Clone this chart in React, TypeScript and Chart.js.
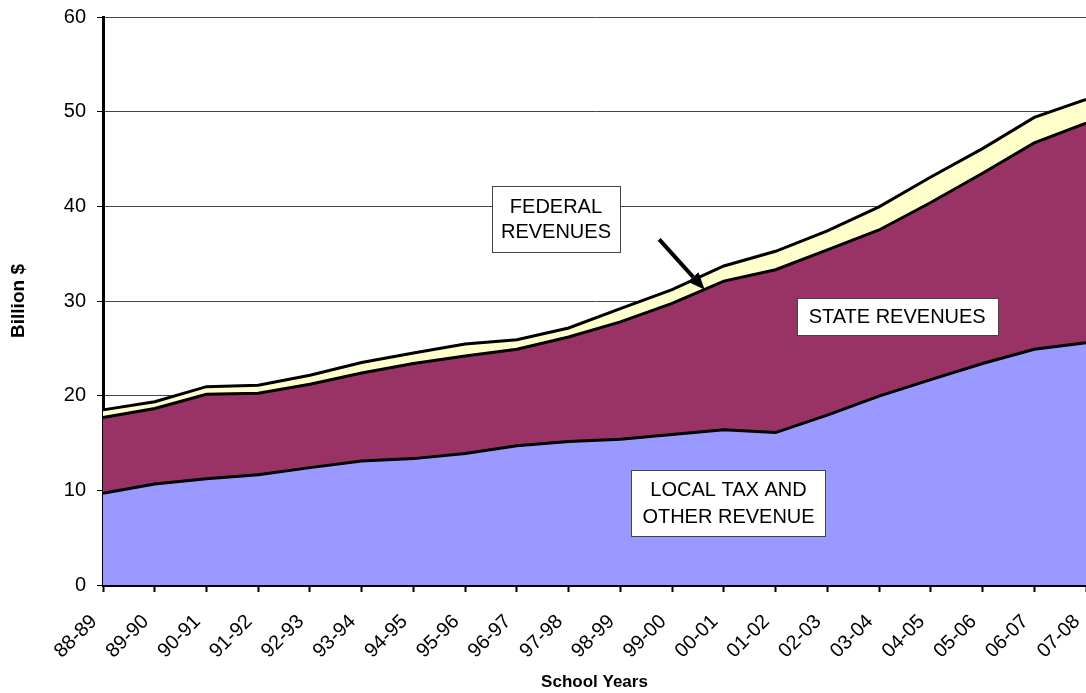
import { useEffect, useRef } from "react";
import { Chart, registerables } from "chart.js";

Chart.register(...registerables);

const schoolYears = [
  "88-89", "89-90", "90-91", "91-92", "92-93", "93-94", "94-95", "95-96", "96-97", "97-98",
  "98-99", "99-00", "00-01", "01-02", "02-03", "03-04", "04-05", "05-06", "06-07", "07-08",
];

// Billion $
const localRevenue = [9.7, 10.67, 11.23, 11.65, 12.4, 13.1, 13.35, 13.9, 14.7, 15.15, 15.4, 15.9, 16.4, 16.1, 17.95, 19.95, 21.7, 23.4, 24.9, 25.6];
const stateRevenue = [8.0, 7.98, 8.91, 8.6, 8.8, 9.3, 10.05, 10.3, 10.2, 11.05, 12.4, 13.85, 15.7, 17.2, 17.45, 17.55, 18.7, 20.1, 21.8, 23.2];
const federalRevenue = [0.8, 0.71, 0.81, 0.85, 0.95, 1.1, 1.1, 1.25, 1.0, 0.95, 1.4, 1.45, 1.6, 1.95, 2.0, 2.45, 2.7, 2.6, 2.7, 2.5];

const yTickValues = [0, 10, 20, 30, 40, 50, 60];

const FONT = '"Liberation Sans", Arial, sans-serif';

// Annotation boxes placed in data space (category index, value)
const annotationBoxes = [
  { lines: ["FEDERAL", "REVENUES"], xIndex: 8.755, yValue: 38.7, width: 128, height: 66, lineGap: 25 },
  { lines: ["STATE REVENUES"], xIndex: 15.35, yValue: 28.4, width: 201, height: 37, lineGap: 26 },
  { lines: ["LOCAL TAX AND", "OTHER REVENUE"], xIndex: 12.09, yValue: 8.66, width: 194, height: 66, lineGap: 27 },
];
const federalArrow = { fromIndex: 10.75, fromValue: 36.5, toIndex: 11.63, toValue: 31.2 };

const annotationPlugin = {
  id: "revenueAnnotations",
  afterDatasetsDraw(chart: any) {
    const { ctx, scales } = chart;
    const xs = scales.x;
    const ys = scales.y;
    const step = xs.getPixelForValue(1) - xs.getPixelForValue(0);
    const px = (i: number) => xs.getPixelForValue(0) + i * step;
    ctx.save();
    for (const b of annotationBoxes) {
      const cx = px(b.xIndex);
      const cy = ys.getPixelForValue(b.yValue);
      const left = Math.round(cx - b.width / 2) + 0.5;
      const top = Math.round(cy - b.height / 2) + 0.5;
      ctx.fillStyle = "#ffffff";
      ctx.fillRect(left, top, b.width, b.height);
      ctx.strokeStyle = "#444444";
      ctx.lineWidth = 1;
      ctx.strokeRect(left, top, b.width, b.height);
      ctx.fillStyle = "#000000";
      ctx.font = `20px ${FONT}`;
      ctx.textAlign = "center";
      ctx.textBaseline = "middle";
      const n = b.lines.length;
      b.lines.forEach((t, k) => {
        const ly = cy + (k - (n - 1) / 2) * b.lineGap + 1;
        ctx.fillText(t, cx, ly);
      });
    }
    // arrow
    const x1 = px(federalArrow.fromIndex);
    const y1 = ys.getPixelForValue(federalArrow.fromValue);
    const x2 = px(federalArrow.toIndex);
    const y2 = ys.getPixelForValue(federalArrow.toValue);
    const ang = Math.atan2(y2 - y1, x2 - x1);
    const headLen = 17;
    const headHalf = 7;
    const bx = x2 - headLen * Math.cos(ang);
    const by = y2 - headLen * Math.sin(ang);
    ctx.strokeStyle = "#000000";
    ctx.lineWidth = 4;
    ctx.beginPath();
    ctx.moveTo(x1, y1);
    ctx.lineTo(bx, by);
    ctx.stroke();
    ctx.fillStyle = "#000000";
    ctx.beginPath();
    ctx.moveTo(x2, y2);
    ctx.lineTo(bx + headHalf * Math.sin(ang), by - headHalf * Math.cos(ang));
    ctx.lineTo(bx - headHalf * Math.sin(ang), by + headHalf * Math.cos(ang));
    ctx.closePath();
    ctx.fill();
    ctx.restore();
  },
};

export default function App() {
  const ref = useRef<HTMLCanvasElement | null>(null);
  useEffect(() => {
    if (!ref.current) return;
    const mk = (label: string, data: number[], color: string, fill: any) => ({
      label,
      data,
      backgroundColor: color,
      borderColor: "#000000",
      borderWidth: 3,
      pointRadius: 0,
      tension: 0,
      fill,
    });
    const chart = new Chart(ref.current, {
      type: "line",
      data: {
        labels: schoolYears,
        datasets: [
          mk("Local tax and other revenue", localRevenue, "#9999FF", "origin"),
          mk("State revenues", stateRevenue, "#993366", "-1"),
          mk("Federal revenues", federalRevenue, "#FFFFCC", "-1"),
        ],
      },
      options: {
        animation: false,
        responsive: false,
        maintainAspectRatio: false,
        layout: { padding: { top: 17, left: 0, right: 0, bottom: 0 } },
        plugins: {
          legend: { display: false },
          tooltip: { enabled: false },
          title: { display: false },
        },
        scales: {
          x: {
            type: "category",
            offset: false,
            grid: {
              drawOnChartArea: false,
              drawTicks: true,
              tickLength: 7,
              tickColor: "#000000",
              tickWidth: 2,
            },
            border: { display: true, color: "#000000", width: 3 },
            ticks: {
              autoSkip: false,
              maxRotation: 45,
              minRotation: 45,
              color: "#000000",
              padding: 18,
              labelOffset: -9,
              font: { family: FONT, size: 20 },
            },
            title: {
              display: true,
              text: "School Years",
              color: "#000000",
              font: { family: FONT, size: 17, weight: "bold" },
              padding: { top: 4, bottom: 0 },
            },
            afterFit: (s: any) => {
              s.height = 108;
              s.paddingLeft = 0;
              s.paddingRight = 0;
            },
          },
          y: {
            stacked: true,
            min: 0,
            max: 60,
            afterBuildTicks: (s: any) => {
              s.ticks = yTickValues.map((v) => ({ value: v }));
            },
            grid: {
              color: "#444444",
              lineWidth: 1,
              tickLength: 6,
              tickColor: "#000000",
            },
            border: { display: true, color: "#000000", width: 3 },
            ticks: {
              color: "#000000",
              padding: 11,
              font: { family: FONT, size: 20 },
            },
            title: {
              display: true,
              text: "Billion $",
              color: "#000000",
              font: { family: FONT, size: 19, weight: "bold" },
              padding: { top: 7, bottom: 4 },
            },
            afterFit: (s: any) => {
              s.width = 103;
              s.paddingTop = 0;
              s.paddingBottom = 0;
            },
          },
        },
      },
      plugins: [annotationPlugin],
    });
    return () => chart.destroy();
  }, []);
  return (
    <div style={{ position: "absolute", left: 0, top: 0, width: 1086, height: 693, background: "#ffffff" }}>
      <canvas ref={ref} width={1086} height={693} style={{ display: "block" }} />
    </div>
  );
}
